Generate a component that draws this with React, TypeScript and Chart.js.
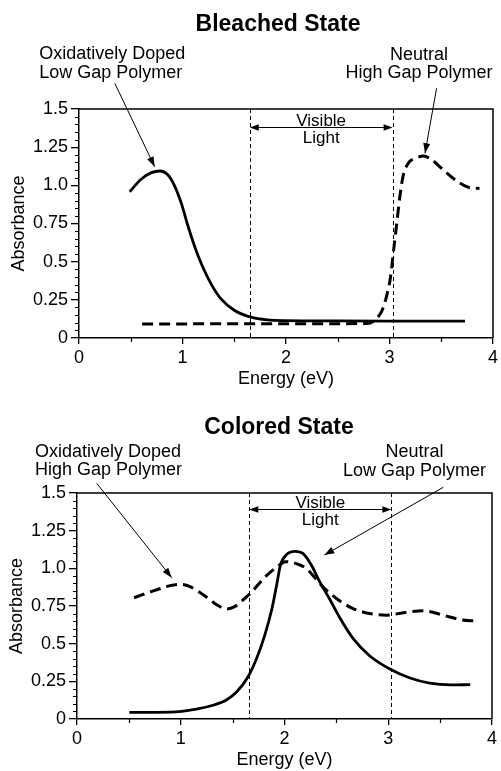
import React, { useEffect, useRef } from "react";
import { Chart, registerables } from "chart.js";

Chart.register(...registerables);

const FONT = "'Liberation Sans', Arial, Helvetica, sans-serif";

// ---- shared axes ----
const energyRange = [0, 4];
const absorbanceRange = [0, 1.5];
const absorbanceTickLabels = ["0", "0.25", "0.5", "0.75", "1.0", "1.25", "1.5"];

// ---- Bleached State ----
const bleachedDopedLowGapEnergy = [0.49, 0.6, 0.7, 0.78, 0.86, 0.92, 0.99, 1.05, 1.12, 1.18, 1.28, 1.37, 1.5, 1.66, 1.82, 2.0, 2.5, 3.0, 3.73];
const bleachedDopedLowGapAbs = [0.958, 1.04, 1.083, 1.094, 1.068, 1.002, 0.88, 0.74, 0.595, 0.49, 0.35, 0.258, 0.182, 0.137, 0.119, 0.114, 0.112, 0.111, 0.11];
const bleachedNeutralHighGapEnergy = [0.61, 1.5, 2.5, 2.78, 2.86, 2.93, 2.97, 3.01, 3.04, 3.07, 3.1, 3.13, 3.18, 3.25, 3.33, 3.41, 3.54, 3.66, 3.76, 3.87];
const bleachedNeutralHighGapAbs = [0.092, 0.093, 0.094, 0.095, 0.118, 0.183, 0.27, 0.4, 0.576, 0.75, 0.925, 1.056, 1.144, 1.177, 1.192, 1.166, 1.089, 1.024, 0.987, 0.98];
const bleachedVisibleBounds = [1.65, 3.03];

// ---- Colored State ----
const coloredNeutralLowGapEnergy = [0.505, 0.9, 1.15, 1.32, 1.44, 1.54, 1.64, 1.73, 1.81, 1.88, 1.93, 1.96, 2.02, 2.1, 2.18, 2.26, 2.34, 2.44, 2.53, 2.66, 2.82, 3.02, 3.21, 3.4, 3.6, 3.79];
const coloredNeutralLowGapAbs = [0.044, 0.046, 0.066, 0.093, 0.126, 0.181, 0.27, 0.4, 0.557, 0.735, 0.91, 1.02, 1.091, 1.113, 1.098, 1.02, 0.91, 0.79, 0.675, 0.535, 0.42, 0.33, 0.272, 0.238, 0.226, 0.228];
const coloredDopedHighGapEnergy = [0.55, 0.736, 0.897, 0.99, 1.09, 1.22, 1.35, 1.44, 1.52, 1.6, 1.68, 1.8, 1.93, 2.01, 2.085, 2.21, 2.37, 2.5, 2.66, 2.82, 2.985, 3.145, 3.34, 3.53, 3.69, 3.85];
const coloredDopedHighGapAbs = [0.805, 0.85, 0.885, 0.894, 0.878, 0.823, 0.757, 0.73, 0.746, 0.79, 0.84, 0.934, 1.011, 1.044, 1.038, 0.998, 0.877, 0.8, 0.733, 0.7, 0.689, 0.705, 0.718, 0.689, 0.66, 0.65];
const coloredVisibleBounds = [1.66, 3.03];

type Pt = { x: number; y: number };
const toPoints = (xs: number[], ys: number[]): Pt[] => xs.map((x, i) => ({ x, y: ys[i] }));

type Spec = {
  width: number;
  height: number;
  padding: { left: number; right: number; top: number; bottom: number };
  yAxisWidth: number;
  xAxisHeight: number;
  yTitlePad: number;
  solid: Pt[];
  dashed: Pt[];
  solidLabel: string;
  dashedLabel: string;
  visible: number[];
  visibleArrowY: number;
  title: string;
  titlePos: [number, number];
  leftLines: string[];
  leftPos: [number, number];
  rightLines: string[];
  rightPos: [number, number];
  arrows: { from: [number, number]; to: [number, number] }[];
};

function arrowHead(ctx: CanvasRenderingContext2D, x0: number, y0: number, x1: number, y1: number, len: number, half: number) {
  const ang = Math.atan2(y1 - y0, x1 - x0);
  ctx.beginPath();
  ctx.moveTo(x1, y1);
  ctx.lineTo(x1 - len * Math.cos(ang) + half * Math.sin(ang), y1 - len * Math.sin(ang) - half * Math.cos(ang));
  ctx.lineTo(x1 - len * Math.cos(ang) - half * Math.sin(ang), y1 - len * Math.sin(ang) + half * Math.cos(ang));
  ctx.closePath();
  ctx.fill();
}

function decorPlugin(spec: Spec) {
  return {
    id: "decor",
    afterDraw(chart: any) {
      const { ctx, chartArea: a } = chart;
      const xs = chart.scales.x;
      const ys = chart.scales.y;
      ctx.save();
      ctx.strokeStyle = "#000";
      ctx.fillStyle = "#000";
      // frame (top + right)
      ctx.lineWidth = 1.5;
      ctx.beginPath();
      ctx.moveTo(a.left, a.top);
      ctx.lineTo(a.right, a.top);
      ctx.lineTo(a.right, a.bottom);
      ctx.stroke();
      // minor ticks
      ctx.lineWidth = 1.2;
      ctx.beginPath();
      for (let k = 1; k < 30; k++) {
        if (k % 5 === 0) continue;
        const py = Math.round(ys.getPixelForValue(k * 0.05)) + 0.5;
        ctx.moveTo(a.left - 4, py);
        ctx.lineTo(a.left, py);
      }
      for (let v = 0.5; v < 4; v += 1) {
        const px = Math.round(xs.getPixelForValue(v)) + 0.5;
        ctx.moveTo(px, a.bottom);
        ctx.lineTo(px, a.bottom + 4);
      }
      ctx.stroke();
      // visible region dashed lines
      ctx.lineWidth = 1;
      ctx.setLineDash([4, 3]);
      ctx.beginPath();
      for (const v of spec.visible) {
        const px = Math.round(xs.getPixelForValue(v)) + 0.5;
        ctx.moveTo(px, a.top);
        ctx.lineTo(px, a.bottom);
      }
      ctx.stroke();
      ctx.setLineDash([]);
      // double arrow
      const vx0 = xs.getPixelForValue(spec.visible[0]);
      const vx1 = xs.getPixelForValue(spec.visible[1]);
      const vy = Math.round(ys.getPixelForValue(spec.visibleArrowY)) + 0.5;
      ctx.beginPath();
      ctx.moveTo(vx0 + 4, vy);
      ctx.lineTo(vx1 - 4, vy);
      ctx.stroke();
      arrowHead(ctx, vx1 - 10, vy, vx0, vy, 9, 3.2);
      arrowHead(ctx, vx0 + 10, vy, vx1, vy, 9, 3.2);
      const vcx = (vx0 + vx1) / 2;
      ctx.font = `17px ${FONT}`;
      ctx.textAlign = "center";
      ctx.textBaseline = "alphabetic";
      ctx.fillText("Visible", vcx, vy - 1.5);
      ctx.fillText("Light", vcx, vy + 15);
      // pointer arrows
      ctx.lineWidth = 1;
      for (const ar of spec.arrows) {
        const x0 = xs.getPixelForValue(ar.from[0]);
        const y0 = ys.getPixelForValue(ar.from[1]);
        const x1 = xs.getPixelForValue(ar.to[0]);
        const y1 = ys.getPixelForValue(ar.to[1]);
        ctx.beginPath();
        ctx.moveTo(x0, y0);
        ctx.lineTo(x1, y1);
        ctx.stroke();
        arrowHead(ctx, x0, y0, x1, y1, 10, 3.5);
      }
      // title
      ctx.font = `bold 23px ${FONT}`;
      ctx.textAlign = "center";
      ctx.fillText(spec.title, spec.titlePos[0], spec.titlePos[1]);
      // annotations
      ctx.font = `18px ${FONT}`;
      ctx.textAlign = "left";
      spec.leftLines.forEach((t, i) => ctx.fillText(t, spec.leftPos[0], spec.leftPos[1] + i * 18.4));
      ctx.textAlign = "center";
      spec.rightLines.forEach((t, i) => ctx.fillText(t, spec.rightPos[0], spec.rightPos[1] + i * 18.4));
      ctx.restore();
    },
  };
}

function buildConfig(spec: Spec): any {
  const tickFont = { size: 18, family: FONT };
  return {
    type: "line",
    data: {
      datasets: [
        {
          label: spec.solidLabel,
          data: spec.solid,
          borderColor: "#000",
          borderWidth: 2.8,
          pointRadius: 0,
          cubicInterpolationMode: "monotone",
          fill: false,
        },
        {
          label: spec.dashedLabel,
          data: spec.dashed,
          borderColor: "#000",
          borderWidth: 3,
          borderDash: [11, 6],
          pointRadius: 0,
          cubicInterpolationMode: "monotone",
          fill: false,
        },
      ],
    },
    options: {
      responsive: false,
      animation: false,
      devicePixelRatio: 1,
      layout: { padding: spec.padding },
      plugins: { legend: { display: false }, tooltip: { enabled: false }, title: { display: false } },
      scales: {
        x: {
          type: "linear",
          min: energyRange[0],
          max: energyRange[1],
          afterFit: (s: any) => {
            s.height = spec.xAxisHeight;
          },
          ticks: {
            stepSize: 1,
            autoSkip: false,
            maxRotation: 0,
            padding: 3,
            color: "#000",
            font: tickFont,
            callback: (v: number) => String(v),
          },
          grid: { drawOnChartArea: false, drawTicks: true, tickLength: 6, color: "#000", lineWidth: 1.3 },
          border: { display: true, color: "#000", width: 1.5 },
          title: { display: true, text: "Energy (eV)", color: "#000", font: tickFont, padding: { top: 0, bottom: 0 } },
        },
        y: {
          type: "linear",
          min: absorbanceRange[0],
          max: absorbanceRange[1],
          afterFit: (s: any) => {
            s.width = spec.yAxisWidth;
          },
          ticks: {
            stepSize: 0.25,
            padding: 3,
            color: "#000",
            font: tickFont,
            callback: (v: number) => absorbanceTickLabels[Math.round(v / 0.25)],
          },
          grid: { drawOnChartArea: false, drawTicks: true, tickLength: 8, color: "#000", lineWidth: 1.3 },
          border: { display: true, color: "#000", width: 1.5 },
          title: { display: true, text: "Absorbance", color: "#000", font: tickFont, padding: { top: spec.yTitlePad, bottom: 0 } },
        },
      },
    },
    plugins: [decorPlugin(spec)],
  };
}

const bleachedSpec: Spec = {
  width: 501,
  height: 390,
  padding: { left: 0, right: 6, top: 109, bottom: 0 },
  yAxisWidth: 79,
  xAxisHeight: 52,
  yTitlePad: 8,
  solid: toPoints(bleachedDopedLowGapEnergy, bleachedDopedLowGapAbs),
  dashed: toPoints(bleachedNeutralHighGapEnergy, bleachedNeutralHighGapAbs),
  solidLabel: "Oxidatively Doped Low Gap Polymer",
  dashedLabel: "Neutral High Gap Polymer",
  visible: bleachedVisibleBounds,
  visibleArrowY: 1.382,
  title: "Bleached State",
  titlePos: [278, 30.7],
  leftLines: ["Oxidatively Doped", "Low Gap Polymer"],
  leftPos: [39.3, 59.3],
  rightLines: ["Neutral", "High Gap Polymer"],
  rightPos: [419, 60],
  arrows: [
    { from: [0.346, 1.668], to: [0.731, 1.122] },
    { from: [3.455, 1.636], to: [3.343, 1.21] },
  ],
};

const coloredSpec: Spec = {
  width: 501,
  height: 381,
  padding: { left: 0, right: 9, top: 103, bottom: 0 },
  yAxisWidth: 77,
  xAxisHeight: 52,
  yTitlePad: 6,
  solid: toPoints(coloredNeutralLowGapEnergy, coloredNeutralLowGapAbs),
  dashed: toPoints(coloredDopedHighGapEnergy, coloredDopedHighGapAbs),
  solidLabel: "Neutral Low Gap Polymer",
  dashedLabel: "Oxidatively Doped High Gap Polymer",
  visible: coloredVisibleBounds,
  visibleArrowY: 1.394,
  title: "Colored State",
  titlePos: [279, 44.3],
  leftLines: ["Oxidatively Doped", "High Gap Polymer"],
  leftPos: [35, 66.7],
  rightLines: ["Neutral", "Low Gap Polymer"],
  rightPos: [414.5, 67.3],
  arrows: [
    { from: [0.19, 1.564], to: [0.913, 0.938] },
    { from: [3.531, 1.538], to: [2.384, 1.088] },
  ],
};

function SpectrumChart({ spec }: { spec: Spec }) {
  const ref = useRef<HTMLCanvasElement | null>(null);
  useEffect(() => {
    if (!ref.current) return;
    const chart = new Chart(ref.current, buildConfig(spec));
    return () => chart.destroy();
  }, [spec]);
  return <canvas ref={ref} width={spec.width} height={spec.height} style={{ display: "block", width: spec.width, height: spec.height }} />;
}

export default function App() {
  return (
    <div style={{ position: "absolute", left: 0, top: 0, width: 501, height: 771, background: "#fff" }}>
      <SpectrumChart spec={bleachedSpec} />
      <SpectrumChart spec={coloredSpec} />
    </div>
  );
}
